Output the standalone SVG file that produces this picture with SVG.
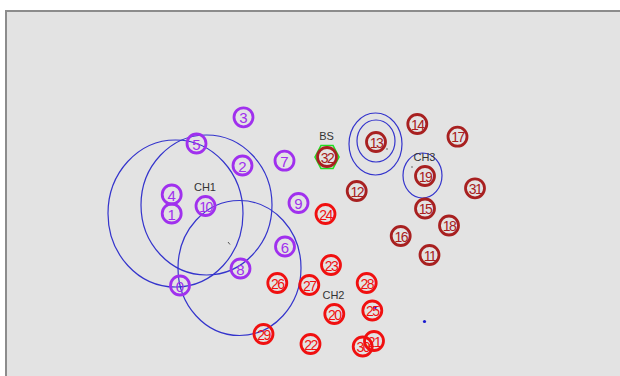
<svg xmlns="http://www.w3.org/2000/svg" width="620" height="376" viewBox="0 0 620 376">
  <style>
    .panel { fill: #e3e3e3; stroke: #8c8c8c; stroke-width: 2; }
    .range { fill: none; stroke: #3434cc; stroke-width: 1.2; }
    .node circle { fill: none; stroke-width: 2.8; }
    .node text { font-family: "Liberation Sans", Arial, sans-serif; font-size: 15px; text-anchor: middle; dominant-baseline: central; }
    .g1 circle { stroke: #a030ee; } .g1 text { fill: #a030ee; }
    .g2 circle { stroke: #f01010; } .g2 text { fill: #f01010; }
    .g3 circle { stroke: #a82020; } .g3 text { fill: #a82020; }
    .tag { font-family: "Liberation Sans", Arial, sans-serif; font-size: 11px; fill: #333; text-anchor: middle; dominant-baseline: central; }
    .dd text { letter-spacing: -1.5px; font-size: 14px; }
  </style>

  <rect class="panel" x="6" y="11" width="620" height="370"/>

  <!-- coverage ranges of the cluster heads -->
  <g id="connectors">
    <ellipse class="range" cx="175.5" cy="213.5" rx="67.5" ry="73.5"/>
    <ellipse class="range" cx="206.5" cy="205" rx="65.5" ry="70"/>
    <ellipse class="range" cx="239.5" cy="268" rx="61.5" ry="67.5"/>
    <ellipse class="range" cx="375.5" cy="144" rx="26.5" ry="31"/>
    <ellipse class="range" cx="376" cy="141" rx="19" ry="21"/>
    <ellipse class="range" cx="422.5" cy="175.5" rx="19.5" ry="22.5"/>
    <line x1="228" y1="242" x2="230" y2="244.5" stroke="#555" stroke-width="1"/>
    <circle cx="375" cy="307.5" r="1.6" fill="#1a1ad0"/>
    <circle cx="424.5" cy="321.5" r="1.6" fill="#1a1ad0"/>
    <circle cx="412" cy="167" r="0.8" fill="#555"/>
    <circle cx="387" cy="149" r="0.8" fill="#555"/>
  </g>

  <!-- labels -->
  <text class="tag" x="205" y="187">CH1</text>
  <text class="tag" x="333.5" y="295">CH2</text>
  <text class="tag" x="424.5" y="157">CH3</text>
  <text class="tag" x="326.5" y="135.5">BS</text>

  <!-- base station -->
  <g id="node32" class="node g3 dd">
    <polygon points="315,157 321,145.5 333,145.5 339,157 333,168.5 321,168.5" fill="none" stroke="#22dd22" stroke-width="1.6"/>
    <circle cx="327" cy="157" r="9.5"/><text x="327" y="157.5">32</text>
  </g>

  <!-- cluster 1 -->
  <g id="node0" class="node g1"><circle cx="180" cy="285.5" r="9.5"/><text x="180" y="286">0</text></g>
  <g id="node1" class="node g1"><circle cx="171.7" cy="213.5" r="9.5"/><text x="171.7" y="214">1</text></g>
  <g id="node2" class="node g1"><circle cx="242.5" cy="165.5" r="9.5"/><text x="242.5" y="166">2</text></g>
  <g id="node3" class="node g1"><circle cx="243.5" cy="117.3" r="9.5"/><text x="243.5" y="117.8">3</text></g>
  <g id="node4" class="node g1"><circle cx="171.7" cy="194.5" r="9.5"/><text x="171.7" y="195">4</text></g>
  <g id="node5" class="node g1"><circle cx="196.5" cy="143.5" r="9.5"/><text x="196.5" y="144">5</text></g>
  <g id="node6" class="node g1"><circle cx="285" cy="246.5" r="9.5"/><text x="285" y="247">6</text></g>
  <g id="node7" class="node g1"><circle cx="284.5" cy="160.7" r="9.5"/><text x="284.5" y="161.2">7</text></g>
  <g id="node8" class="node g1"><circle cx="240.5" cy="268.5" r="9.5"/><text x="240.5" y="269">8</text></g>
  <g id="node9" class="node g1"><circle cx="298.5" cy="203" r="9.5"/><text x="298.5" y="203.5">9</text></g>
  <g id="node10" class="node g1 dd"><circle cx="205.5" cy="206" r="9.5"/><text x="205.5" y="206.5">10</text></g>

  <!-- cluster 2 -->
  <g id="node20" class="node g2 dd"><circle cx="334.3" cy="314" r="9.5"/><text x="334.3" y="314.5">20</text></g>
  <g id="node21" class="node g2 dd"><circle cx="374" cy="341" r="9.5"/><text x="374" y="341.5">21</text></g>
  <g id="node22" class="node g2 dd"><circle cx="310.5" cy="344" r="9.5"/><text x="310.5" y="344.5">22</text></g>
  <g id="node23" class="node g2 dd"><circle cx="331" cy="265" r="9.5"/><text x="331" y="265.5">23</text></g>
  <g id="node24" class="node g2 dd"><circle cx="325.5" cy="214" r="9.5"/><text x="325.5" y="214.5">24</text></g>
  <g id="node25" class="node g2 dd"><circle cx="372.3" cy="310.5" r="9.5"/><text x="372.3" y="311">25</text></g>
  <g id="node26" class="node g2 dd"><circle cx="277.3" cy="283" r="9.5"/><text x="277.3" y="283.5">26</text></g>
  <g id="node27" class="node g2 dd"><circle cx="309.3" cy="285" r="9.5"/><text x="309.3" y="285.5">27</text></g>
  <g id="node28" class="node g2 dd"><circle cx="366.7" cy="283" r="9.5"/><text x="366.7" y="283.5">28</text></g>
  <g id="node29" class="node g2 dd"><circle cx="263.5" cy="334" r="9.5"/><text x="263.5" y="334.5">29</text></g>
  <g id="node30" class="node g2 dd"><circle cx="362.7" cy="346.5" r="9.5"/><text x="362.7" y="347">30</text></g>

  <!-- cluster 3 -->
  <g id="node11" class="node g3 dd"><circle cx="429.5" cy="255" r="9.5"/><text x="429.5" y="255.5">11</text></g>
  <g id="node12" class="node g3 dd"><circle cx="356.7" cy="191" r="9.5"/><text x="356.7" y="191.5">12</text></g>
  <g id="node13" class="node g3 dd"><circle cx="376" cy="142" r="9.5"/><text x="376" y="142.5">13</text></g>
  <g id="node14" class="node g3 dd"><circle cx="417.3" cy="124" r="9.5"/><text x="417.3" y="124.5">14</text></g>
  <g id="node15" class="node g3 dd"><circle cx="425" cy="208.5" r="9.5"/><text x="425" y="209">15</text></g>
  <g id="node16" class="node g3 dd"><circle cx="400.7" cy="236" r="9.5"/><text x="400.7" y="236.5">16</text></g>
  <g id="node17" class="node g3 dd"><circle cx="457.5" cy="136.7" r="9.5"/><text x="457.5" y="137.2">17</text></g>
  <g id="node18" class="node g3 dd"><circle cx="449" cy="225.5" r="9.5"/><text x="449" y="226">18</text></g>
  <g id="node19" class="node g3 dd"><circle cx="425" cy="176" r="9.5"/><text x="425" y="176.5">19</text></g>
  <g id="node31" class="node g3 dd"><circle cx="475" cy="188.3" r="9.5"/><text x="475" y="188.8">31</text></g>
</svg>
